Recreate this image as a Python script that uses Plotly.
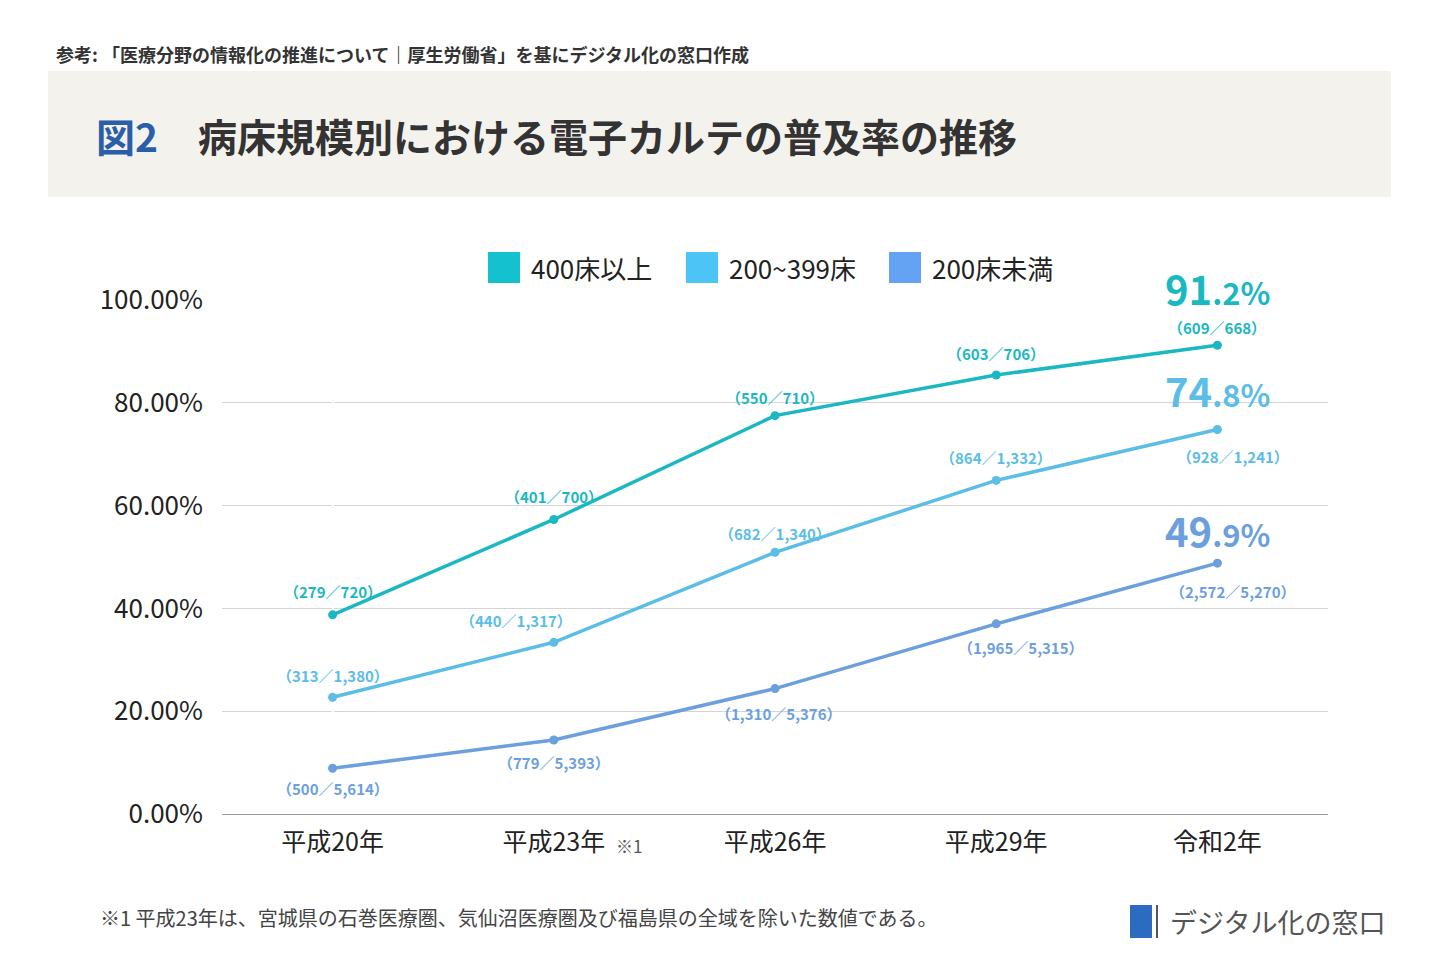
import plotly.graph_objects as go

categories = ["平成20年", "平成23年", "平成26年", "平成29年", "令和2年"]
s400 = [38.75, 57.3, 77.5, 85.4, 91.2]
s200 = [22.7, 33.4, 50.9, 64.9, 74.8]
s0 = [8.9, 14.4, 24.4, 37.0, 48.8]
lab400 = ["（279／720）", "（401／700）", "（550／710）", "（603／706）", "（609／668）"]
lab200 = ["（313／1,380）", "（440／1,317）", "（682／1,340）", "（864／1,332）", "（928／1,241）"]
lab0 = ["（500／5,614）", "（779／5,393）", "（1,310／5,376）", "（1,965／5,315）", "（2,572／5,270）"]
names = ["400床以上", "200~399床", "200床未満"]
big = [("91", ".2%"), ("74", ".8%"), ("49", ".9%")]

F = "Noto Sans CJK JP"
lc = ["#1bb8c2", "#5cbde6", "#6c9fde"]
leg = ["#13c2ce", "#4cc4f5", "#64a2f4"]
tc = ["#1bb8c2", "#5cbde6", "#6c9fde"]

W, H = 1440, 960
OFF = 8  # page body margin
L, R, T, B = 222 - OFF, 112 + OFF, 300 - OFF, 146 + OFF
def px(x): return (x - OFF - L) / (W - L - R)
def py(y): return (H - B - (y - OFF)) / (H - T - B)

fig = go.Figure()
series = [s400, s200, s0]
labs = [lab400, lab200, lab0]
offs = [[4.45, 4.4, 3.6, 4.1, 3.5], [4.3, 4.3, 3.6, 4.4, -5.3], [-4.0, -4.3, -4.9, -4.7, -5.6]]
dx = [[0, 0, 0, 0, 0], [0, -0.17, 0, 0, 0.07], [0, 0, 0.02, 0.11, 0.07]]
bigy = [102.3, 82.5, 55.3]
for i in range(3):
    fig.add_trace(go.Scatter(x=list(range(5)), y=series[i], mode="lines+markers", name=names[i],
                             line=dict(color=lc[i], width=3.5), marker=dict(size=9, color=lc[i]),
                             showlegend=False, cliponaxis=False))
    for j in range(5):
        fig.add_annotation(x=j + dx[i][j], y=series[i][j] + offs[i][j], text="<b>" + labs[i][j] + "</b>",
                           showarrow=False, yanchor="middle", font=dict(family=F, size=15, color=tc[i]))
    fig.add_annotation(x=4.0, yref="paper", y=bigy[i] / 100, xanchor="center", yanchor="middle",
                       text=f"<b>{big[i][0]}<span style='font-size:31px'>{big[i][1]}</span></b>",
                       showarrow=False, font=dict(family=F, size=40, color=tc[i]))

lx = [488, 686, 889]
for i in range(3):
    fig.add_shape(type="rect", xref="paper", yref="paper", x0=px(lx[i]), x1=px(lx[i] + 32),
                  y0=py(283), y1=py(252), fillcolor=leg[i], line_width=0, layer="above")
    fig.add_annotation(xref="paper", yref="paper", x=px(lx[i] + 41), y=py(267), xanchor="left", yanchor="middle",
                       text=names[i], showarrow=False, font=dict(family=F, size=26, color="#222"))

fig.add_shape(type="rect", xref="paper", yref="paper", x0=px(48), x1=px(1391), y0=py(197), y1=py(71),
              fillcolor="#f4f2ec", line_width=0, layer="below")
fig.add_annotation(xref="paper", yref="paper", x=px(94), y=py(135), xanchor="left", yanchor="middle",
                   text="<b><span style='color:#2b5ea8'>図2</span></b>",
                   showarrow=False, font=dict(family=F, size=39, color="#333"))
fig.add_annotation(xref="paper", yref="paper", x=px(196), y=py(135), xanchor="left", yanchor="middle",
                   text="<b>病床規模別における電子カルテの普及率の推移</b>",
                   showarrow=False, font=dict(family=F, size=39, color="#333"))
fig.add_annotation(xref="paper", yref="paper", x=px(54), y=py(54), xanchor="left", yanchor="middle",
                   text="<b>参考: 「医療分野の情報化の推進について｜厚生労働省」を基にデジタル化の窓口作成</b>",
                   showarrow=False, font=dict(family=F, size=18, color="#333"))
fig.add_annotation(xref="paper", yref="paper", x=px(98), y=py(917), xanchor="left", yanchor="middle",
                   text="※1 平成23年は、宮城県の石巻医療圏、気仙沼医療圏及び福島県の全域を除いた数値である。",
                   showarrow=False, font=dict(family=F, size=20, color="#444"))
fig.add_annotation(xref="paper", yref="paper", x=px(614), y=py(845), xanchor="left", yanchor="middle",
                   text="※1", showarrow=False, font=dict(family=F, size=17, color="#555"))
fig.add_shape(type="rect", xref="paper", yref="paper", x0=px(1130), x1=px(1152), y0=py(938), y1=py(905),
              fillcolor="#2b6cc0", line_width=0)
fig.add_shape(type="line", xref="paper", yref="paper", x0=px(1157), x1=px(1157), y0=py(938), y1=py(905),
              line=dict(color="#555", width=2))
fig.add_annotation(xref="paper", yref="paper", x=px(1168), y=py(921), xanchor="left", yanchor="middle",
                   text="デジタル化の窓口", showarrow=False, font=dict(family=F, size=27, color="#555"))

fig.update_layout(width=W, height=H, paper_bgcolor="white", plot_bgcolor="white",
                  margin=dict(l=L, r=R, t=T, b=B),
                  xaxis=dict(range=[-0.5, 4.5], showgrid=False, showline=True, linecolor="#999",
                             tickvals=list(range(5)), ticktext=categories,
                             tickfont=dict(family=F, size=25, color="#222"), ticks="", ticklabelstandoff=6),
                  yaxis=dict(range=[0, 100], dtick=20, gridcolor="#d5d5d5", zeroline=False,
                             ticksuffix="%", tickformat=".2f", tickfont=dict(family=F, size=26, color="#222"),
                             ticklabelstandoff=18))
fig.write_html("out.html")
